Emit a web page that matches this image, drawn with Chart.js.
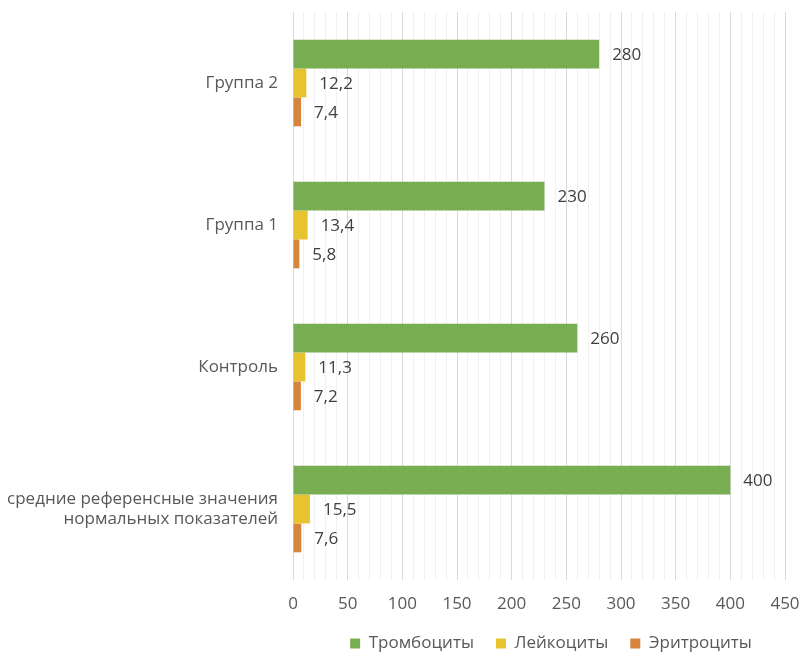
<!DOCTYPE html>
<html>
<head>
<meta charset="utf-8">
<script src="https://cdn.jsdelivr.net/npm/chart.js@4.4.0/dist/chart.umd.min.js"></script>
<style>
  html, body { margin: 0; padding: 0; background: #fff; }
  #wrap { width: 801px; height: 655px; }
</style>
</head>
<body>
<div id="wrap"><canvas id="chart"></canvas></div>
<script>
  const categories = [
    "Группа 2",
    "Группа 1",
    "Контроль",
    ["средние референсные значения", "нормальных показателей"],
  ];
  const seriesNames = ["Тромбоциты", "Лейкоциты", "Эритроциты"];
  const platelets = [280, 230, 260, 400];
  const leukocytes = [12.2, 13.4, 11.3, 15.5];
  const erythrocytes = [7.4, 5.8, 7.2, 7.6];
  const xMin = 0, xMax = 450, xMinorStep = 10, xMajorStep = 50;

  const COLORS = ["#79ad52", "#e8c330", "#d6853d"];
  const FONT = "'Open Sans', 'Liberation Sans', sans-serif";
  const TEXT = "#595959";

  function fmtValue(v) {
    return String(v).replace(".", ",");
  }

  // value labels right of each bar end
  const valueLabels = {
    id: "valueLabels",
    afterDatasetsDraw(chart) {
      const ctx = chart.ctx;
      ctx.save();
      ctx.font = `17px ${FONT}`;
      ctx.fillStyle = "#404040";
      ctx.textAlign = "left";
      ctx.textBaseline = "middle";
      chart.data.datasets.forEach((ds, i) => {
        const meta = chart.getDatasetMeta(i);
        meta.data.forEach((bar, j) => {
          ctx.fillText(fmtValue(ds.data[j]), bar.x + 13, bar.y + 1);
        });
      });
      ctx.restore();
    },
  };

  // legend needs wide item spacing (padding) but sits close under the ticks
  const legendFit = {
    id: "legendFit",
    afterInit(chart) {
      const legend = chart.legend;
      const fit = legend.fit;
      legend.fit = function () {
        fit.call(this);
        this.height = 39;
      };
    },
    afterLayout(chart) {
      const l = chart.legend;
      l.top -= 3;
      l.left += 12;
      l.right += 12;
    },
  };

  const datasets = [platelets, leukocytes, erythrocytes].map((data, i) => ({
    label: seriesNames[i],
    data,
    backgroundColor: COLORS[i],
    borderWidth: 0,
    barPercentage: 1,
    categoryPercentage: 0.61,
  }));

  new Chart(document.getElementById("chart"), {
    type: "bar",
    data: { labels: categories, datasets },
    plugins: [valueLabels, legendFit],
    options: {
      indexAxis: "y",
      animation: false,
      responsive: true,
      maintainAspectRatio: false,
      layout: { padding: { top: 12, right: 16, bottom: 0, left: 0 } },
      plugins: {
        tooltip: { enabled: false },
        legend: {
          position: "bottom",
          fullSize: false,
          labels: {
            color: TEXT,
            font: { family: FONT, size: 17 },
            boxWidth: 10,
            boxHeight: 10,
            padding: 22,
          },
        },
      },
      scales: {
        x: {
          min: xMin,
          max: xMax,
          afterFit: (s) => { s.height = 36; s.paddingLeft = 0; s.paddingRight = 0; },
          border: { display: false },
          grid: {
            drawTicks: false,
            color: (c) => (c.tick && c.tick.value % xMajorStep === 0 ? "#d9d9d9" : "#f0f0f0"),
          },
          ticks: {
            stepSize: xMinorStep,
            autoSkip: false,
            maxRotation: 0,
            padding: 14,
            color: TEXT,
            font: { family: FONT, size: 17 },
            callback: (v) => (v % xMajorStep === 0 ? String(v) : ""),
          },
        },
        y: {
          afterFit: (s) => { s.width = 293; s.paddingTop = 0; s.paddingBottom = 0; },
          border: { display: false },
          grid: { display: false, drawTicks: false },
          ticks: {
            padding: 15,
            color: TEXT,
            font: { family: FONT, size: 17 },
          },
        },
      },
    },
  });
</script>
</body>
</html>
